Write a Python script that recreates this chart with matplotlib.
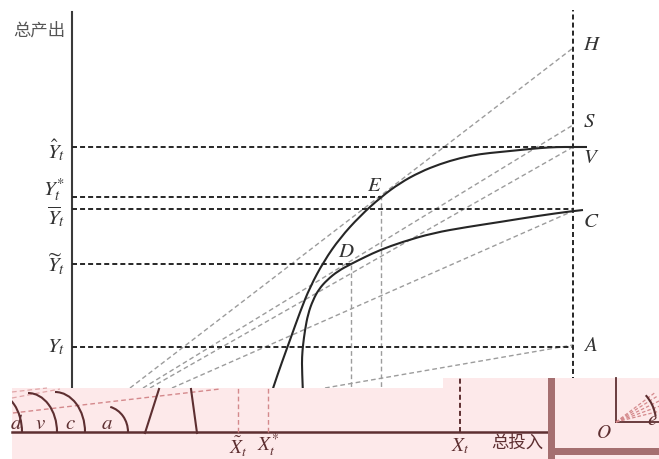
import numpy as np
import matplotlib
matplotlib.use("Agg")
import matplotlib.pyplot as plt
from matplotlib.patches import Polygon, Rectangle, Arc, PathPatch
from matplotlib.path import Path

plt.rcParams['font.family'] = ['Noto Sans CJK SC', 'DejaVu Sans']
plt.rcParams['mathtext.fontset'] = 'stix'
plt.rcParams['lines.scale_dashes'] = False

# ---------------- data (diagram units: input on x, output on y) ----------------
y_labels = [r'$\hat{Y}_t$', r'$Y_t^{*}$', r'$\overline{Y}_t$', r'$\widetilde{Y}_t$', r'$Y_t$']
y_levels = [285, 235, 223, 168, 85]          # output levels
y_line_end = [501, 309, 501, 279, 501]       # where each dashed level line stops
y_label_pos = [282, 242, 215, 167, 86]

X_t = 501                                    # vertical line of total input
ray_names = ['H', 'S', 'V', 'C', 'A']
ray_end = [384, 307, 285, 221, 87]           # output where rays meet X_t
ray_start_x = [58, 71, 78, 100, 253]         # input where rays leave the lower strip
ray_start_y = 44

E_pt = (309, 235)
D_pt = (279, 168)

upper_x = [199, 201, 210, 218, 228, 238, 252, 268, 288, 309, 328, 348, 368, 388, 408, 428, 448, 468, 485, 501, 515]
upper_y = [37, 44, 70, 92, 120, 145, 171, 194, 216, 235, 249, 260, 268, 274, 278, 280, 282, 284, 285, 285, 285]
lower_x = [231, 230, 230, 231, 233, 236, 241, 247, 255, 266, 279, 293, 308, 330, 361, 395, 428, 465, 501, 511]
lower_y = [37, 62, 75, 87, 102, 118, 132, 143, 152, 161, 168, 175, 182, 190, 199, 205, 210, 216, 221, 222]

# lower (pink) strip: a copy of the input axis
strip_x_labels = [r'$\tilde{X}_t$', r'$X_t^{*}$', r'$X_t$']
strip_x_pos = [166, 196, 388]
strip_arc_labels = ['d', 'v', 'c', 'a']
strip_arc_label_x = [-56, -32, -2, 35]


def smooth_path(xs, ys):
    pts = np.column_stack([xs, ys]).astype(float)
    verts = [pts[0]]
    codes = [Path.MOVETO]
    for i in range(1, len(pts) - 1):
        mid = (pts[i] + pts[i + 1]) / 2 if i < len(pts) - 2 else pts[i + 1]
        verts += [pts[i], mid]
        codes += [Path.CURVE3, Path.CURVE3]
    return Path(verts, codes)


# ---------------- figure ----------------
fig = plt.figure(figsize=(6.59, 4.59), dpi=100)
ax = fig.add_axes([0, 0, 1, 1])
ax.set_xlim(-72, 587)
ax.set_ylim(-27, 432)
ax.axis('off')

black = '#262626'
gray = '#9c9c9c'
dash_k = (3.6, 2.2)
dash_g = (3.4, 2.2)
txt = '#333333'

# output axis
ax.plot([0, 0], [30, 420], color='#3a3a3a', lw=1.5, zorder=2)
ax.text(-7, 401, '总产出', ha='right', va='center', fontsize=12.5, color='#555555')

# vertical X_t line
ax.plot([X_t, X_t], [50, 422], color=black, lw=1.4, dashes=dash_k, zorder=2)

# horizontal level lines + labels
for lab, lev, xe, yp in zip(y_labels, y_levels, y_line_end, y_label_pos):
    ax.plot([0, xe], [lev, lev], color=black, lw=1.4, dashes=dash_k, zorder=2)
    ax.text(-7, yp, lab, ha='right', va='center', fontsize=15, color=txt)

# rays
for nm, ye, xs in zip(ray_names, ray_end, ray_start_x):
    ax.plot([xs, X_t], [ray_start_y, ye], color=gray, lw=1.0, dashes=dash_g, zorder=1)
    off = 4 if nm in 'HS' else (-10 if nm in 'VC' else 0)
    ax.text(511, ye + off, '$' + nm + '$', ha='left', va='center', fontsize=15, color=txt)

# drop lines from E and D
for px, py in [E_pt, D_pt]:
    ax.plot([px, px], [30, py], color=gray, lw=1.0, dashes=dash_g, zorder=1)
ax.text(E_pt[0] - 6, E_pt[1] + 12, '$E$', ha='center', va='center', fontsize=15, color=txt)
ax.text(D_pt[0] - 5, D_pt[1] + 13, '$D$', ha='center', va='center', fontsize=15, color=txt)

# production curves
for xs, ys in [(upper_x, upper_y), (lower_x, lower_y)]:
    ax.add_patch(PathPatch(smooth_path(xs, ys), facecolor='none', edgecolor=black,
                           lw=1.5, zorder=3))

# ---------------- pink strip ----------------
pink = '#fde9ea'
brown = '#a56f70'
dark = '#5e2f31'
pinkdash = '#d4898c'
strip = Polygon([(-60, 44), (371, 44), (371, 54), (476, 54), (476, -27), (-60, -27)],
                closed=True, facecolor=pink, edgecolor='none', zorder=5)
ax.add_patch(strip)
ax.add_patch(Rectangle((476, -27), 111, 81, facecolor=pink, edgecolor='none', zorder=5))
ax.add_patch(Rectangle((476, -27), 7, 81, facecolor=brown, edgecolor='none', zorder=7))
ax.add_patch(Rectangle((483, -23), 104, 7, facecolor=brown, edgecolor='none', zorder=7))

# strip axis
ax.plot([-60, 476], [0, 0], color=dark, lw=1.8, zorder=6)
for lab, xp, base in zip(strip_x_labels, strip_x_pos, [-22, -19, -19]):
    ax.text(xp, base, lab, ha='center', va='baseline', fontsize=14, color=dark, zorder=8)
ax.plot([strip_x_pos[0]] * 2, [0, 44], color=pinkdash, lw=1.0, dashes=dash_g, zorder=6)
ax.plot([strip_x_pos[1]] * 2, [0, 44], color=pinkdash, lw=1.0, dashes=dash_g, zorder=6)
ax.plot([strip_x_pos[2]] * 2, [0, 54], color=dark, lw=1.4, dashes=dash_k, zorder=6)
ax.text(445, -11, '总投入', ha='center', va='center', fontsize=12.5, color=dark, zorder=8)

# strip sketches
ax.plot([-59, 148], [19, 43], color=pinkdash, lw=1.0, dashes=dash_g, zorder=6)
ax.plot([-60, -12], [34, 43], color=pinkdash, lw=0.9, dashes=dash_g, zorder=6, alpha=0.7)
ax.plot([-60, -25], [40, 44], color=pinkdash, lw=0.9, dashes=dash_g, zorder=6, alpha=0.7)
arc_d = Arc((-77, 0), 54, 78, theta1=0, theta2=90, color=dark, lw=1.5, zorder=6)
ax.add_patch(arc_d)
arc_d.set_clip_path(strip)
ax.add_patch(Arc((-44, 0), 58, 78, theta1=0, theta2=90, color=dark, lw=1.5, zorder=6))
ax.add_patch(Arc((-17, 0), 60, 80, theta1=0, theta2=90, color=dark, lw=1.5, zorder=6))
ax.add_patch(Arc((32, 0), 48, 52, theta1=0, theta2=76, color=dark, lw=1.5, zorder=6))
for lab, xp in zip(strip_arc_labels, strip_arc_label_x):
    ax.text(xp, 9, '$' + lab + '$', ha='center', va='center', fontsize=15, color=dark, zorder=8)
ax.plot([73, 87], [-1, 43], color=dark, lw=1.5, zorder=6)
ax.plot([125, 119], [-1, 43], color=dark, lw=1.5, zorder=6)

# inset box contents
ax.plot([544, 544], [10, 54], color=dark, lw=1.3, zorder=8)
ax.plot([544, 587], [10, 10], color=dark, lw=1.3, zorder=8)
ax.text(532, 0, '$O$', ha='center', va='center', fontsize=14, color=dark, zorder=8)
for ang in [14, 20, 26, 32, 37]:
    r = np.radians(ang)
    ax.plot([544, 544 + 50 * np.cos(r)], [10, 10 + 50 * np.sin(r)], color=pinkdash,
            lw=0.9, dashes=(2.5, 1.5), zorder=8)
ax.add_patch(Arc((544, 10), 80, 80, theta1=8, theta2=42, color=dark, lw=1.5, zorder=8))
ax.text(580, 13, '$e$', ha='center', va='center', fontsize=15, color=dark, zorder=9)

fig.savefig('out.png', dpi=100)
